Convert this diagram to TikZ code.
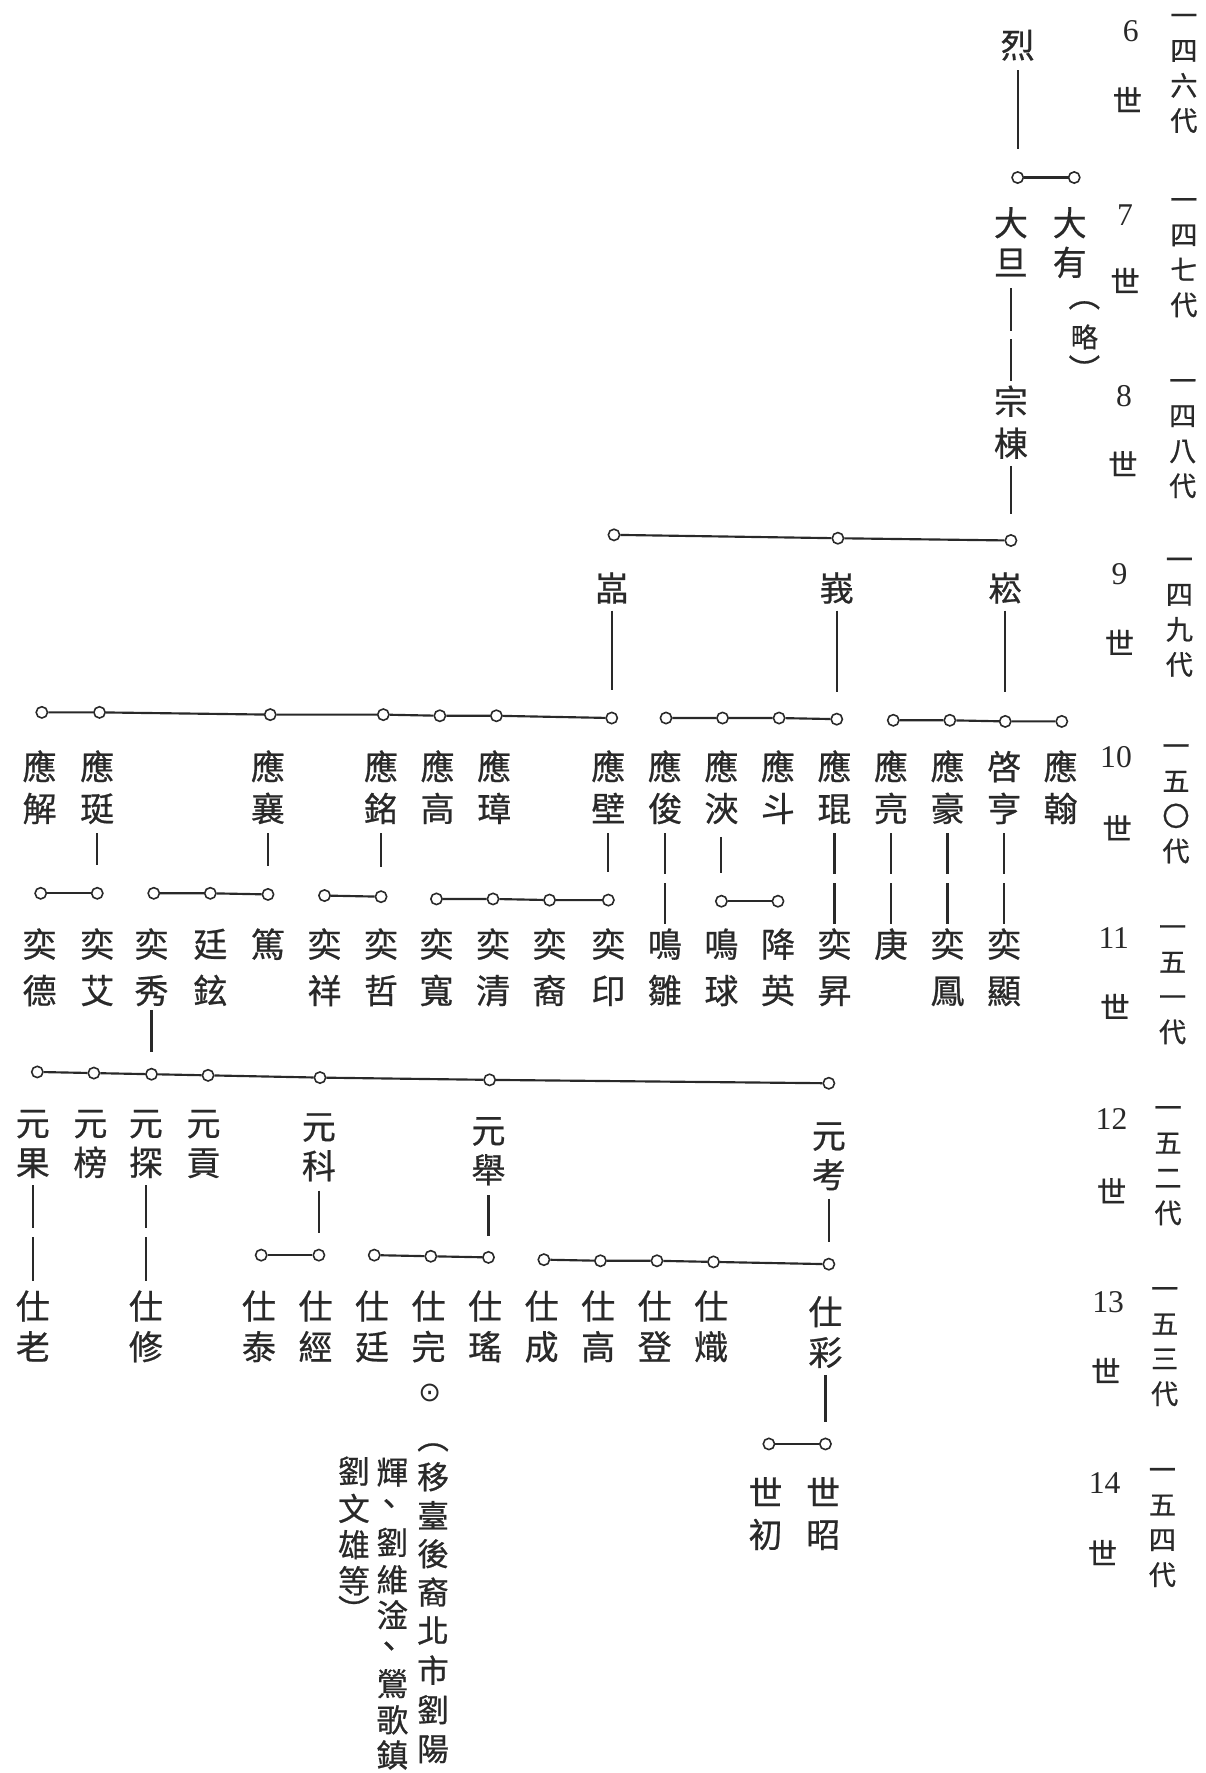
\documentclass[tikz,border=0pt]{standalone}
\usepackage{tikz}
\usepackage{fontspec}
\newfontfamily\cjk[FakeBold=0.7]{Noto Sans CJK TC}
\newfontfamily\numfont{Liberation Serif}
\newfontfamily\symfont{DejaVu Sans}
\definecolor{ink}{rgb}{0.16,0.16,0.16}
\newcommand\st{\rule[-0.12em]{0pt}{1em}}
\newcommand\vcon[4]{\draw[ln, shorten <=#3pt, shorten >=#4pt] (#1.center) -- (#2.center);}
\tikzset{
  nm/.style={align=center, inner sep=0pt, outer sep=0pt, text=ink, font=\cjk\fontsize{30}{#1}\selectfont},
  nm/.default=37,
  lab/.style={align=center, inner sep=0pt, text=ink, font=\cjk\fontsize{24}{31}\selectfont},
  shi/.style={inner sep=0pt, text=ink, font=\cjk\fontsize{26}{28}\selectfont},
  numlab/.style={inner sep=0pt, text=ink, font=\numfont\fontsize{28}{30}\selectfont},
  ring/.style={circle, draw=ink, line width=1.4pt, fill=white, minimum size=10pt, inner sep=0pt},
  ln/.style={draw=ink, line width=1.9pt},
}
\begin{document}
\begin{tikzpicture}[x=1pt,y=-1pt]
\useasboundingbox (0,0) rectangle (1066,1568);

% ---------- generation labels (right) ----------
\node[numlab] (n6) at (1000,28) {6};
\node[numlab] (n7) at (995,190) {7};
\node[numlab] (n8) at (994,350) {8};
\node[numlab] (n9) at (990,508) {9};
\node[numlab] (n10) at (987,670) {10};
\node[numlab] (n11) at (985,830) {11};
\node[numlab] (n12) at (983,990) {12};
\node[numlab] (n13) at (980,1152) {13};
\node[numlab] (n14) at (977,1312) {14};
\node[shi] (s6) at (997,88) {世};
\node[shi] (s7) at (995,248) {世};
\node[shi] (s8) at (993,410) {世};
\node[shi] (s9) at (990,568) {世};
\node[shi] (s10) at (988,732) {世};
\node[shi] (s11) at (986,890) {世};
\node[shi] (s12) at (983,1053) {世};
\node[shi] (s13) at (978,1212) {世};
\node[shi] (s14) at (975,1373) {世};
\node[lab] (d6) at (1047,60) {\st 一\\四\\六\\代\st};
\node[lab] (d7) at (1047,223) {\st 一\\四\\七\\代\st};
\node[lab] (d8) at (1046,383) {\st 一\\四\\八\\代\st};
\node[lab] (d9) at (1043,541) {\st 一\\四\\九\\代\st};
\node[lab] (d10) at (1040,706) {\st 一\\五\\〇\\代\st};
\node[lab] (d11) at (1037,866) {\st 一\\五\\一\\代\st};
\node[lab] (d12) at (1033,1026) {\st 一\\五\\二\\代\st};
\node[lab] (d13) at (1030,1186) {\st 一\\五\\三\\代\st};
\node[lab] (d14) at (1028,1346) {\st 一\\五\\四\\代\st};

% ---------- generations 6-8 ----------
\node[nm] (lie) at (900,40) {烈};
\node[ring] (c7a) at (900,157) {};
\node[ring] (c7b) at (950,157) {};
\draw[ln] (c7a) -- (c7b);
\vcon{lie}{c7a}{22}{25}
\node[nm=35] (dadan) at (894,214.5) {\st 大\\旦\st};
\node[nm=35] (dayou) at (946,214.5) {\st 大\\有\st};
\node[nm, font=\cjk\fontsize{28}{30}\selectfont] (lp1) at (959,270) {︵};
\node[nm, font=\cjk\fontsize{24}{26}\selectfont] (lue) at (959,298) {略};
\node[nm, font=\cjk\fontsize{28}{30}\selectfont] (rp1) at (959,326) {︶};
\node[nm] (zongdong) at (894,373.5) {\st 宗\\棟\st};
\vcon{dadan}{zongdong}{40.5}{80.5}
\vcon{dadan}{zongdong}{85.5}{36.5}

% ---------- generation 9 ----------
\node[ring] (c9a) at (543,473) {};
\node[ring] (c9b) at (741,476) {};
\node[ring] (c9c) at (894,478) {};
\draw[ln] (c9a) -- (c9b) -- (c9c);
\vcon{zongdong}{c9c}{38.5}{23}
\node[nm] (yan) at (541,520) {嵓};
\node[nm] (e) at (740,520) {峩};
\node[nm] (song) at (889,520) {崧};

% ---------- generation 10 ----------
\node[ring] (c10a) at (37,630) {};
\node[ring] (c10b) at (88,630) {};
\node[ring] (c10c) at (239,632) {};
\node[ring] (c10d) at (339,632) {};
\node[ring] (c10e) at (389,633) {};
\node[ring] (c10f) at (439,633) {};
\node[ring] (c10g) at (541,635) {};
\draw[ln] (c10a) -- (c10b) -- (c10c) -- (c10d) -- (c10e) -- (c10f) -- (c10g);
\node[ring] (c10h) at (589,635) {};
\node[ring] (c10i) at (639,635) {};
\node[ring] (c10j) at (689,635) {};
\node[ring] (c10k) at (740,636) {};
\draw[ln] (c10h) -- (c10i) -- (c10j) -- (c10k);
\node[ring] (c10l) at (790,637) {};
\node[ring] (c10m) at (840,637) {};
\node[ring] (c10n) at (889,638) {};
\node[ring] (c10o) at (939,638) {};
\draw[ln] (c10l) -- (c10m) -- (c10n) -- (c10o);
\vcon{yan}{c10g}{20}{25}
\vcon{e}{c10k}{20}{24}
\vcon{song}{c10n}{20}{26}

\node[nm] (yjie) at (35,696.5) {\st 應\\解\st};
\node[nm] (yting) at (86,696.5) {\st 應\\珽\st};
\node[nm] (yxiang) at (237,696.5) {\st 應\\襄\st};
\node[nm] (yming) at (337,696.5) {\st 應\\銘\st};
\node[nm] (ygao) at (387,696.5) {\st 應\\高\st};
\node[nm] (yzhang) at (437,696.5) {\st 應\\璋\st};
\node[nm] (ybi) at (538,696.5) {\st 應\\壁\st};
\node[nm] (yjun) at (588,696.5) {\st 應\\俊\st};
\node[nm] (yjia) at (638,696.5) {\st 應\\浹\st};
\node[nm] (ydou) at (688,696.5) {\st 應\\斗\st};
\node[nm] (ykun) at (738,696.5) {\st 應\\琨\st};
\node[nm] (yliang) at (788,696.5) {\st 應\\亮\st};
\node[nm] (yhao) at (838,696.5) {\st 應\\豪\st};
\node[nm] (qiheng) at (888,696.5) {\st 啓\\亨\st};
\node[nm] (yhan) at (938,696.5) {\st 應\\翰\st};

% ---------- generation 11 ----------
\node[ring] (c11a) at (36,790) {};
\node[ring] (c11b) at (86,790) {};
\draw[ln] (c11a) -- (c11b);
\node[ring] (c11c) at (136,790) {};
\node[ring] (c11d) at (186,790) {};
\node[ring] (c11e) at (237,791) {};
\draw[ln] (c11c) -- (c11d) -- (c11e);
\node[ring] (c11f) at (287,792) {};
\node[ring] (c11g) at (337,793) {};
\draw[ln] (c11f) -- (c11g);
\node[ring] (c11h) at (386,795) {};
\node[ring] (c11i) at (436,795) {};
\node[ring] (c11j) at (486,796) {};
\node[ring] (c11k) at (538,796) {};
\draw[ln] (c11h) -- (c11i) -- (c11j) -- (c11k);
\node[ring] (c11l) at (638,797) {};
\node[ring] (c11m) at (688,797) {};
\draw[ln] (c11l) -- (c11m);

\node[nm=41] (yide) at (35,855.5) {\st 奕\\德\st};
\node[nm=41] (yiai) at (86,855.5) {\st 奕\\艾\st};
\node[nm=41] (yixiu) at (134,855.5) {\st 奕\\秀\st};
\node[nm=41] (tingxuan) at (186,855.5) {\st 廷\\鉉\st};
\node[nm] (du) at (237,835) {篤};
\node[nm=41] (yixiang) at (287,855.5) {\st 奕\\祥\st};
\node[nm=41] (yizhe) at (337,855.5) {\st 奕\\哲\st};
\node[nm=41] (yikuan) at (386,855.5) {\st 奕\\寬\st};
\node[nm=41] (yiqing) at (436,855.5) {\st 奕\\清\st};
\node[nm=41] (yiyi) at (486,855.5) {\st 奕\\裔\st};
\node[nm=41] (yiyin) at (538,855.5) {\st 奕\\印\st};
\node[nm=41] (mingchu) at (588,855.5) {\st 鳴\\雛\st};
\node[nm=41] (mingqiu) at (638,855.5) {\st 鳴\\球\st};
\node[nm=41] (jiangying) at (688,855.5) {\st 降\\英\st};
\node[nm=41] (yisheng) at (738,855.5) {\st 奕\\昇\st};
\node[nm] (geng) at (788,835) {庚};
\node[nm=41] (yifeng) at (838,855.5) {\st 奕\\鳳\st};
\node[nm=41] (yixian) at (888,855.5) {\st 奕\\顯\st};

\vcon{yting}{c11b}{40.5}{25}
\vcon{yxiang}{c11e}{40.5}{25}
\vcon{yming}{c11g}{40.5}{26}
\vcon{ybi}{c11k}{40.5}{25}
\vcon{yjia}{c11l}{43.5}{25}
\vcon{yjun}{mingchu}{40.5}{82.5}
\vcon{yjun}{mingchu}{84.5}{38.5}
\vcon{ykun}{yisheng}{40.5}{82.5}
\vcon{ykun}{yisheng}{84.5}{38.5}
\vcon{yliang}{geng}{40.5}{62}
\vcon{yliang}{geng}{84.5}{18}
\vcon{yhao}{yifeng}{40.5}{82.5}
\vcon{yhao}{yifeng}{84.5}{38.5}
\vcon{qiheng}{yixian}{40.5}{82.5}
\vcon{qiheng}{yixian}{84.5}{38.5}

% ---------- generation 12 ----------
\node[ring] (c12a) at (33,948) {};
\node[ring] (c12b) at (83,949) {};
\node[ring] (c12c) at (134,950) {};
\node[ring] (c12d) at (184,951) {};
\node[ring] (c12e) at (283,953) {};
\node[ring] (c12f) at (433,955) {};
\node[ring] (c12g) at (733,958) {};
\draw[ln] (c12a) -- (c12b) -- (c12c) -- (c12d) -- (c12e) -- (c12f) -- (c12g);
\vcon{yixiu}{c12c}{37.5}{20}

\node[nm=35] (yuanguo) at (29,1010.5) {\st 元\\果\st};
\node[nm=35] (yuanbang) at (80,1010.5) {\st 元\\榜\st};
\node[nm=35] (yuantan) at (129,1010.5) {\st 元\\探\st};
\node[nm=35] (yuangong) at (180,1010.5) {\st 元\\貢\st};
\node[nm=35] (yuanke) at (282,1013.5) {\st 元\\科\st};
\node[nm=35] (yuanju) at (432,1017) {\st 元\\舉\st};
\node[nm=35] (yuankao) at (733,1021.5) {\st 元\\考\st};

% ---------- generation 13 ----------
\node[ring] (c13a) at (231,1110) {};
\node[ring] (c13b) at (282,1110) {};
\draw[ln] (c13a) -- (c13b);
\node[ring] (c13c) at (331,1110) {};
\node[ring] (c13d) at (381,1111) {};
\node[ring] (c13e) at (432,1112) {};
\draw[ln] (c13c) -- (c13d) -- (c13e);
\node[ring] (c13f) at (481,1114) {};
\node[ring] (c13g) at (531,1115) {};
\node[ring] (c13h) at (581,1115) {};
\node[ring] (c13i) at (631,1116) {};
\node[ring] (c13j) at (733,1118) {};
\draw[ln] (c13f) -- (c13g) -- (c13h) -- (c13i) -- (c13j);

\node[nm=36] (shilao) at (29,1173) {\st 仕\\老\st};
\node[nm=36] (shixiu) at (129,1173) {\st 仕\\修\st};
\node[nm=36] (shitai) at (229,1173) {\st 仕\\泰\st};
\node[nm=36] (shijing) at (279,1173) {\st 仕\\經\st};
\node[nm=36] (shiting) at (329,1173) {\st 仕\\廷\st};
\node[nm=36] (shiwan) at (379,1173) {\st 仕\\完\st};
\node[nm=36] (shiyao) at (429,1173) {\st 仕\\瑤\st};
\node[nm=36] (shicheng) at (479,1173) {\st 仕\\成\st};
\node[nm=36] (shigao) at (529,1173) {\st 仕\\高\st};
\node[nm=36] (shideng) at (579,1173) {\st 仕\\登\st};
\node[nm=36] (shichi) at (629,1173) {\st 仕\\熾\st};
\node[nm=36] (shicai) at (730,1178) {\st 仕\\彩\st};
\node[inner sep=0pt, text=ink, font=\symfont\fontsize{24}{26}\selectfont] (mark) at (380,1232) {⊙};

\vcon{yuanguo}{shilao}{37.5}{87}
\vcon{yuanguo}{shilao}{83.5}{40}
\vcon{yuantan}{shixiu}{37.5}{87}
\vcon{yuantan}{shixiu}{83.5}{40}
\vcon{yuanke}{c13b}{39.5}{20}
\vcon{yuanju}{c13e}{40}{19}
\vcon{yuankao}{c13j}{38.5}{20}

% ---------- generation 14 ----------
\node[ring] (c14a) at (680,1277) {};
\node[ring] (c14b) at (730,1277) {};
\draw[ln] (c14a) -- (c14b);
\vcon{shicai}{c14b}{38}{19}
\node[nm] (shizhao) at (728,1338.5) {\st 世\\昭\st};
\node[nm] (shichu) at (677,1338.5) {\st 世\\初\st};

% ---------- note ----------
\foreach \x/\y/\c [count=\i] in {
  383/1280/︵, 383/1306/移, 383/1340/臺, 383/1374/後, 383/1408/裔,
  383/1442/北, 383/1477/市, 383/1512/劉, 383/1547/陽,
  347/1302/輝, 344/1333/、, 347/1364/劉, 347/1397/維, 347/1428/淦,
  344/1459/、, 347/1489/鶯, 347/1521/歌, 347/1552/鎮,
  313/1301/劉, 313/1334/文, 313/1366/雄, 313/1398/等, 313/1423/︶}
  \node[nm, font=\cjk\fontsize{28}{30}\selectfont] (note\i) at (\x,\y) {\c};

\end{tikzpicture}
\end{document}
